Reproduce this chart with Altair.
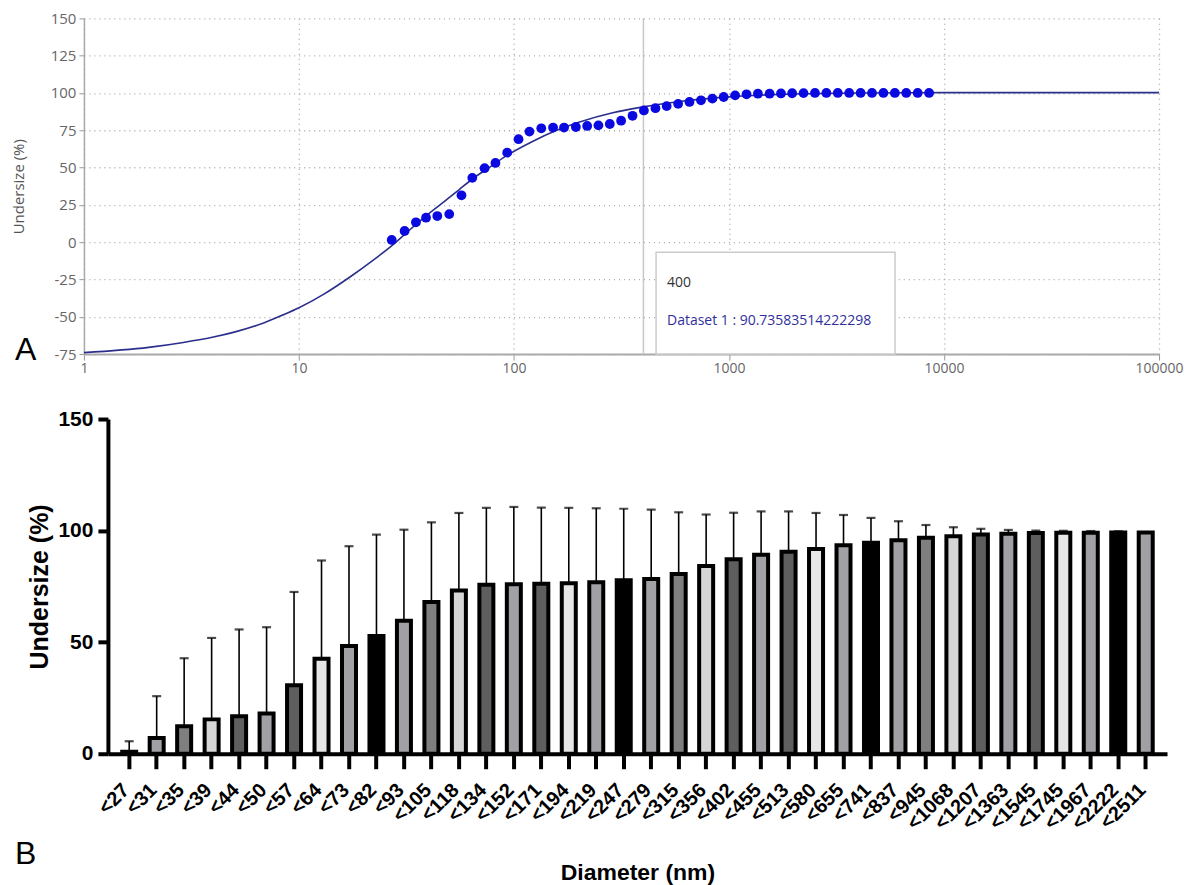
import altair as alt
import pandas as pd

# ---------------- Panel A data ----------------
pts_d = [27, 31, 35, 39, 44, 50, 57, 64, 73, 82, 93, 105, 118, 134, 152, 171, 194, 219,
         247, 279, 315, 356, 402, 455, 513, 580, 655, 741, 837, 945, 1068, 1207, 1363,
         1545, 1745, 1967, 2222, 2511, 2837, 3206, 3623, 4094, 4626, 5227, 5907, 6675,
         7543, 8523]
pts_v = [1.5, 7.5, 13.3, 16.4, 17.5, 18.8, 31.4, 43.1, 49.6, 53.1, 60.0, 69.0, 74.1,
         76.3, 76.8, 76.8, 77.2, 77.9, 78.3, 79.2, 81.4, 84.7, 88.3, 89.8, 91.2, 92.7,
         94.0, 95.1, 96.2, 97.3, 98.4, 99.1, 99.5, 99.5, 99.7, 99.8, 99.9, 100, 100, 100,
         100, 100, 100, 100, 100, 100, 100, 100]
curve_d = [1, 2, 2.9, 4, 5, 6.9, 8.3, 10, 13, 17.4, 22.4, 27.5, 32, 40.7, 48, 56, 65, 80,
           92, 120, 158, 202, 288, 400, 600, 1000, 2000, 4000, 10000, 100000]
curve_v = [-74, -70.5, -67.2, -63.6, -60.3, -54, -49.2, -44, -35, -23, -11.5, -1.5, 7,
           19.8, 27.8, 35.6, 43, 51.8, 57.8, 67, 75, 80.6, 86.8, 90.7, 94.5, 97.4, 99.3,
           100, 100.2, 100.2]
x_ticks_a = [1, 10, 100, 1000, 10000, 100000]
y_ticks_a = [-75, -50, -25, 0, 25, 50, 75, 100, 125, 150]
cursor_x = [400]
box_x = [458]
box_x2 = [5918]
box_y = [-6.8]
box_y2 = [-75]
tip_lines = ["400", "Dataset 1 : 90.73583514222298"]
tip_y = [-27.4, -52.6]
tip_x = [515, 515]

# ---------------- Panel B data ----------------
categories = ["<27", "<31", "<35", "<39", "<44", "<50", "<57", "<64", "<73", "<82", "<93",
              "<105", "<118", "<134", "<152", "<171", "<194", "<219", "<247", "<279",
              "<315", "<356", "<402", "<455", "<513", "<580", "<655", "<741", "<837",
              "<945", "<1068", "<1207", "<1363", "<1545", "<1745", "<1967", "<2222",
              "<2511"]
bar_v = [0.9, 7.0, 12.3, 15.4, 16.8, 18.0, 30.7, 42.6, 48.3, 52.8, 59.6, 68.0, 73.2, 75.7,
         75.9, 76.2, 76.4, 76.8, 77.7, 78.3, 80.5, 84.1, 87.2, 89.2, 90.5, 91.7, 93.4,
         94.5, 95.7, 96.8, 97.5, 98.3, 98.6, 98.9, 99.0, 99.0, 99.1, 99.1]
err_top = [5.6, 25.8, 42.8, 51.9, 55.7, 56.7, 72.5, 86.6, 93.0, 98.2, 100.4, 103.7, 107.9,
           110.2, 110.6, 110.3, 110.2, 110.0, 109.8, 109.4, 108.2, 107.2, 108.0, 108.6,
           108.6, 107.9, 107.0, 105.7, 104.2, 102.5, 101.5, 100.8, 100.3, 100.0, 99.9,
           99.8, 99.7, 99.1]
y_ticks_b = [0, 50, 100, 150]

palette = ["#000000", "#a0a0a5", "#7f7f7f", "#d6d6d6", "#5e5e5e", "#a0a0a5", "#5e5e5e",
           "#e6e6e6", "#a0a0a5"]
bar_colors = [palette[i % len(palette)] for i in range(len(categories))]

FONT_A = "Open Sans"
FONT_B = "Liberation Sans"

one = pd.DataFrame({"s": [""]})

# ---------------- Panel A ----------------
WA, HA = 1076, 336
xa_scale = alt.Scale(type="log", domain=[1, 100000], nice=False)
ya_scale = alt.Scale(domain=[-75, 150], nice=False, zero=False)

xa_axis = alt.Axis(values=x_ticks_a, labelExpr="'' + datum.value", grid=True,
                   gridColor="#a8a8a8", gridDash=[1, 4], gridWidth=1.3,
                   domainColor="#aaaaaa", domainWidth=2, tickColor="#999999", tickSize=6,
                   labelColor="#666666", labelFont=FONT_A, labelFontSize=14,
                   labelPadding=1, labelFlush=False, labelOverlap=False, title=None)
ya_axis = alt.Axis(values=y_ticks_a, labelExpr="'' + datum.value", grid=True,
                   gridColor="#a8a8a8", gridDash=[1, 4], gridWidth=1.3,
                   domainColor="#aaaaaa", domainWidth=1.5, tickColor="#999999",
                   tickSize=5, labelColor="#666666", labelFont=FONT_A, labelFontSize=15,
                   labelPadding=3, labelOverlap=False, labelFlush=False,
                   labelBound=False, title="Undersize (%)", titleFont=FONT_A,
                   titleFontSize=15, titleFontWeight="normal", titleColor="#555555",
                   titlePadding=24)

X_A = alt.X("d:Q", scale=xa_scale, axis=xa_axis)
Y_A = alt.Y("v:Q", scale=ya_scale, axis=ya_axis)

curve_df = pd.DataFrame({"d": curve_d, "v": curve_v})
pts_df = pd.DataFrame({"d": pts_d, "v": pts_v})
cursor_df = pd.DataFrame({"d": cursor_x, "v": [150], "v2": [-75]})
box_df = pd.DataFrame({"d": box_x, "d2": box_x2, "v": box_y, "v2": box_y2})
tip_df = pd.DataFrame({"d": tip_x, "v": tip_y, "t": tip_lines,
                       "c": ["#333333", "#2f2f9c"]})

curve = alt.Chart(curve_df).mark_line(color="#2b2f8c", strokeWidth=1.6,
                                      interpolate="monotone").encode(x=X_A, y=Y_A)
points = alt.Chart(pts_df).mark_circle(size=96, color="#0a0ae0", opacity=1).encode(
    x=X_A, y=Y_A)
cursor = alt.Chart(cursor_df).mark_rule(color="#c8c8c8", strokeWidth=1.5).encode(
    x=X_A, y=Y_A, y2="v2:Q")
box = alt.Chart(box_df).mark_rect(fill="white", stroke="#cccccc", strokeWidth=1.5).encode(
    x=X_A, x2="d2:Q", y=Y_A, y2="v2:Q")
tips = alt.Chart(tip_df).mark_text(align="left", baseline="middle", font=FONT_A,
                                   fontSize=14).encode(
    x=X_A, y=Y_A, text="t:N", color=alt.Color("c:N", scale=None))
label_a = alt.Chart(one).mark_text(text="A", font=FONT_B, fontSize=32, align="left",
                                   baseline="alphabetic", color="black").encode(
    x=alt.value(-69), y=alt.value(342))
guide_a = alt.Chart(one).mark_rule(opacity=0).encode(
    x=alt.value(-75), x2=alt.value(-75), y=alt.value(0), y2=alt.value(1))

panel_a = alt.layer(cursor, curve, points, box, tips, label_a, guide_a).properties(
    width=WA, height=HA)

# ---------------- Panel B ----------------
WB, HB = 1060, 335
dfb = pd.DataFrame({"cat": categories, "v": bar_v, "e": err_top})

xb = alt.X("cat:N", sort=categories,
           scale=alt.Scale(paddingInner=0.49, paddingOuter=0.52),
           axis=alt.Axis(labelAngle=315, labelAlign="right", labelBaseline="middle",
                         labelFont=FONT_B, labelFontWeight="bold", labelFontSize=20,
                         labelColor="black", labelPadding=18, labelOffset=-3,
                         domainColor="black", domainWidth=4, tickColor="black",
                         tickWidth=4, tickSize=15, labelOverlap=False,
                         title="Diameter (nm)", titleFont=FONT_B, titleFontSize=23,
                         titleFontWeight="bold", titleColor="black", titlePadding=28))
yb_axis = alt.Axis(values=y_ticks_b, labelFont=FONT_B, labelFontWeight="bold",
                   labelFontSize=21, labelColor="black", labelPadding=5,
                   domainColor="black", domainWidth=4, tickColor="black", tickWidth=4,
                   tickSize=10, grid=False, title="Undersize (%)", titleFont=FONT_B,
                   titleFontSize=25, titleFontWeight="bold", titleColor="black",
                   titlePadding=5)
yb_scale = alt.Scale(domain=[0, 150], nice=False)

base_b = alt.Chart(dfb)
err_rule = base_b.mark_rule(color="black", strokeWidth=1.6).encode(
    x=xb, y=alt.Y("v:Q", scale=yb_scale, axis=yb_axis), y2="e:Q")
err_cap = base_b.mark_tick(color="black", thickness=2.2, size=9).encode(
    x=xb, y="e:Q")
bars = base_b.mark_bar(stroke="black", strokeWidth=4, strokeJoin="miter").encode(
    x=xb, y="v:Q",
    fill=alt.Fill("cat:N", scale=alt.Scale(domain=categories, range=bar_colors),
                  legend=None))
label_b = alt.Chart(one).mark_text(text="B", font=FONT_B, fontSize=32, align="left",
                                   baseline="alphabetic", color="black").encode(
    x=alt.value(-93), y=alt.value(445))
guide_b = alt.Chart(one).mark_rule(opacity=0).encode(
    x=alt.value(-99), x2=alt.value(-99), y=alt.value(0), y2=alt.value(1))

panel_b = alt.layer(err_rule, err_cap, bars, label_b, guide_b).properties(
    width=WB, height=HB)


def spacer():
    return alt.Chart(one).mark_text(text="").encode(
        x=alt.value(0), y=alt.value(0)).properties(width=1, height=1)


row_a = alt.hconcat(spacer(), panel_a, spacing=0)
row_b = alt.hconcat(spacer(), panel_b, spacing=0)

chart = alt.vconcat(row_a, row_b, spacing=33).properties(
    padding={"left": 0, "top": 3, "right": 0, "bottom": 0},
    background="white").configure_view(stroke=None).configure_axis(labelOverlap=False)

chart.save("out.html", embed_options={"renderer": "svg", "actions": False})
